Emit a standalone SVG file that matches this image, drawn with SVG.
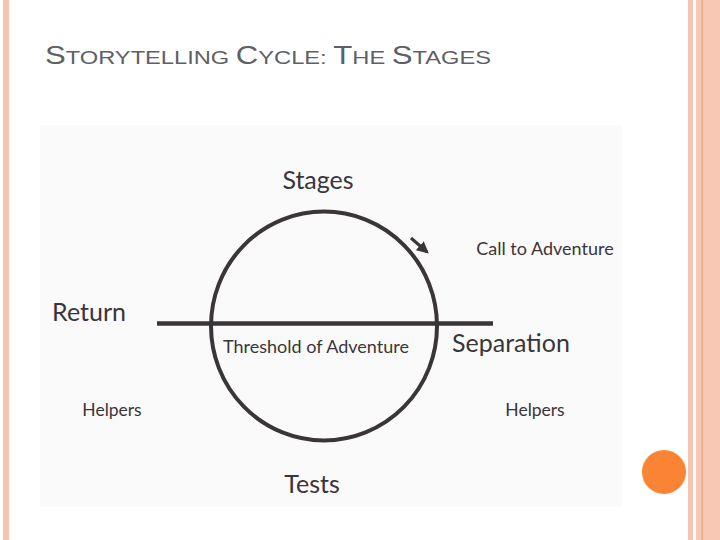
<svg xmlns="http://www.w3.org/2000/svg" width="720" height="540" viewBox="0 0 720 540">
<style>
.lbl{font-family:Lato,"Open Sans","Liberation Sans",sans-serif;fill:#3a3538}
.big{font-size:25px}
.mid{font-size:18px}
.sm{font-size:17.5px}
.title{font-family:"Liberation Sans",Arial,sans-serif;fill:#5f6065}
</style>
<defs>
<marker id="ah" viewBox="0 0 10 10" refX="8" refY="5" markerWidth="4" markerHeight="4" orient="auto"><path d="M0,0 L10,5 L0,10 z" fill="#3a3538"/></marker>
</defs>
<rect width="720" height="540" fill="#ffffff"/>
<rect x="3" y="0" width="6" height="540" fill="#f8c4b0"/>
<rect x="688" y="0" width="5" height="540" fill="#f8c4b0"/>
<rect x="696" y="0" width="24" height="540" fill="#f9c8b4"/>
<rect x="701.5" y="0" width="1.2" height="540" fill="#f0a07e"/>
<circle cx="664" cy="472" r="22" fill="#fb8434"/>
<text class="title" x="45" y="64" textLength="446" lengthAdjust="spacingAndGlyphs"><tspan font-size="25">S</tspan><tspan font-size="19">TORYTELLING </tspan><tspan font-size="25">C</tspan><tspan font-size="19">YCLE: </tspan><tspan font-size="25">T</tspan><tspan font-size="19">HE </tspan><tspan font-size="25">S</tspan><tspan font-size="19">TAGES</tspan></text>
<rect x="40" y="125" width="582" height="382" fill="#fafafa"/>
<g id="connectors" stroke="#3a3538" fill="none">
<ellipse cx="324" cy="326" rx="113" ry="114.5" stroke-width="4"/>
<line x1="157" y1="323.5" x2="493" y2="323.5" stroke-width="4.5"/>
<line x1="411" y1="238" x2="427" y2="252" stroke-width="3" marker-end="url(#ah)"/>
</g>
<g id="stages"><text class="lbl big" x="318" y="189" text-anchor="middle">Stages</text></g>
<g id="call"><text class="lbl mid" x="545" y="255" text-anchor="middle">Call to Adventure</text></g>
<g id="return"><text class="lbl big" x="89" y="321" text-anchor="middle">Return</text></g>
<g id="threshold"><text class="lbl mid" x="316" y="353" text-anchor="middle">Threshold of Adventure</text></g>
<g id="separation"><text class="lbl big" x="511" y="352" text-anchor="middle">Separation</text></g>
<g id="helpers-left"><text class="lbl sm" x="112" y="416" text-anchor="middle">Helpers</text></g>
<g id="helpers-right"><text class="lbl sm" x="535" y="416" text-anchor="middle">Helpers</text></g>
<g id="tests"><text class="lbl big" x="312" y="493" text-anchor="middle">Tests</text></g>
</svg>
